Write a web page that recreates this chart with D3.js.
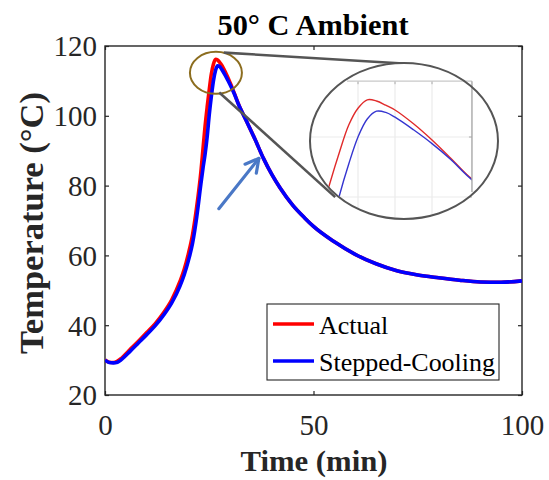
<!DOCTYPE html>
<html><head><meta charset="utf-8">
<script src="https://cdn.jsdelivr.net/npm/d3@7"></script>
<style>
body{margin:0;background:#fff}
svg{display:block}
text{font-family:"Liberation Serif","Times New Roman",serif}
</style>
</head><body>
<svg id="c" width="549" height="480"></svg>
<script>
// ---- data ----
const time    = [0,1,2,3,4,6,8,10,12,14,16,18,19,20,21,22,23,23.5,24,24.5,25,25.5,26,26.5,27,27.5,28,29,30,31,32,34,36,38,40,42,45,48,50,55,60,65,70,75,80,85,90,95,100];
const actual  = [30.0,29.4,29.3,29.7,30.6,33.0,35.4,37.9,40.4,43.5,47.3,52.6,56.0,60.5,66.0,74.0,84.0,90.5,97.0,102.5,107.5,112.0,114.8,116.2,116.0,115.3,114.5,112.2,109.5,106.5,103.4,98.3,93.2,87.8,83.2,79.3,74.4,70.6,68.3,63.9,60.3,57.6,55.6,54.4,53.6,52.9,52.4,52.3,52.7];
const stepped = [30.0,29.3,29.2,29.4,30.2,32.5,34.9,37.3,39.8,42.8,46.4,51.3,54.5,58.5,63.5,71.0,80.5,85.0,89.0,94.0,100.3,105.5,110.0,113.0,114.3,114.1,113.3,111.2,108.9,106.3,103.3,98.3,93.2,87.8,83.2,79.3,74.4,70.6,68.3,63.9,60.3,57.6,55.6,54.4,53.6,52.9,52.4,52.3,52.7];
const seriesNames = ["Actual", "Stepped-Cooling"];
const seriesColors = ["#ff0000", "#0000ff"];
const xTicks = [0, 50, 100];
const yTicks = [20, 40, 60, 80, 100, 120];
const insetXTicks = [26, 28, 30];
const insetYTicks = [110, 100];
const titleText = "50° C Ambient";
const xLabel = "Time (min)";
const yLabel = "Temperature (°C)";

// ---- layout ----
const svg = d3.select("#c");
const L = 105, R = 522, T = 46, B = 395;
const x = d3.scaleLinear([0, 100], [L, R]);
const y = d3.scaleLinear([20, 120], [B, T]);
const axisColor = "#262626";

const defs = svg.append("defs");
defs.append("clipPath").attr("id", "plotClip")
  .append("rect").attr("x", L).attr("y", T).attr("width", R - L).attr("height", B - T);

// title
svg.append("text").attr("x", 313).attr("y", 35).attr("text-anchor", "middle")
  .attr("font-size", 29).attr("font-weight", "bold").attr("fill", "#000")
  .attr("textLength", 191).attr("lengthAdjust", "spacingAndGlyphs").text(titleText);

// axes
const fmt = d3.format("d");
const gL = svg.append("g").attr("transform", `translate(${L},0)`)
  .call(d3.axisLeft(y).tickValues(yTicks).tickSizeInner(-4).tickSizeOuter(0).tickPadding(8).tickFormat(fmt));
const gB = svg.append("g").attr("transform", `translate(0,${B})`)
  .call(d3.axisBottom(x).tickValues(xTicks).tickSizeInner(-4).tickSizeOuter(0).tickPadding(40).tickFormat(fmt));
const gR = svg.append("g").attr("transform", `translate(${R},0)`)
  .call(d3.axisRight(y).tickValues(yTicks).tickSizeInner(-4).tickSizeOuter(0).tickFormat(""));
const gT = svg.append("g").attr("transform", `translate(0,${T})`)
  .call(d3.axisTop(x).tickValues(xTicks).tickSizeInner(-4).tickSizeOuter(0).tickFormat(""));
[gL, gB, gR, gT].forEach(g => {
  g.select(".domain").remove();
  g.selectAll("line").attr("stroke", axisColor).attr("stroke-width", 1.2);
  g.selectAll("text").attr("fill", axisColor).attr("font-size", 29)
    .attr("font-family", "'Liberation Serif','Times New Roman',serif");
});
gB.selectAll("text").attr("dy", 0);
gL.selectAll("text").attr("dy", "0.34em");

svg.append("rect").attr("x", L).attr("y", T).attr("width", R - L).attr("height", B - T)
  .attr("fill", "none").attr("stroke", axisColor).attr("stroke-width", 1.4);

// axis labels
svg.append("text").attr("x", 314).attr("y", 471).attr("text-anchor", "middle")
  .attr("font-size", 30).attr("font-weight", "bold").attr("fill", axisColor)
  .attr("textLength", 147).attr("lengthAdjust", "spacingAndGlyphs").text(xLabel);
svg.append("text").attr("transform", "translate(43,223) rotate(-90)").attr("text-anchor", "middle")
  .attr("font-size", 33).attr("font-weight", "bold").attr("fill", axisColor)
  .attr("textLength", 262).attr("lengthAdjust", "spacingAndGlyphs").text(yLabel);

// main lines
const series = [actual, stepped];
const lineMain = d3.line().x((d, i) => x(time[i])).y(d => y(d)).curve(d3.curveMonotoneX);
const gLines = svg.append("g").attr("clip-path", "url(#plotClip)");
series.forEach((s, k) => {
  gLines.append("path").datum(s).attr("d", lineMain).attr("fill", "none")
    .attr("stroke", seriesColors[k]).attr("stroke-width", 3.6).attr("stroke-linejoin", "round");
});

// ---- annotations (positioned in data coordinates) ----
const gray = "#555";
svg.append("ellipse").attr("cx", x(26.6)).attr("cy", y(112.3)).attr("rx", 26).attr("ry", 21)
  .attr("fill", "none").attr("stroke", "#8c6d1f").attr("stroke-width", 2);
[[28.5, 118.1, 71.5, 115.0], [27.4, 106.7, 55.2, 76.7]].forEach(c => {
  svg.append("line").attr("x1", x(c[0])).attr("y1", y(c[1])).attr("x2", x(c[2])).attr("y2", y(c[3]))
    .attr("stroke", gray).attr("stroke-width", 2.6);
});
const cx = x(71.7), cy = y(92.8), rx = 94, ry = 78;
defs.append("clipPath").attr("id", "ellClip")
  .append("ellipse").attr("cx", cx).attr("cy", cy).attr("rx", rx - 1).attr("ry", ry - 1);
svg.append("ellipse").attr("cx", cx).attr("cy", cy).attr("rx", rx).attr("ry", ry)
  .attr("fill", "#fff").attr("stroke", "none");

// inset axes
const ix = d3.scaleLinear([26, 28], [358, 395]);
const iy = d3.scaleLinear([100, 110], [197, 137]);
const iTop = iy(119.3), iRight = ix(32.16);
defs.append("clipPath").attr("id", "insetRect")
  .append("rect").attr("x", 0).attr("y", iTop).attr("width", iRight).attr("height", 480);
const gIn = svg.append("g").attr("clip-path", "url(#ellClip)")
  .append("g").attr("clip-path", "url(#insetRect)");
insetXTicks.forEach(t => {
  gIn.append("line").attr("x1", ix(t)).attr("x2", ix(t)).attr("y1", iTop).attr("y2", 260)
    .attr("stroke", "#ebebeb").attr("stroke-width", 1.2);
  svg.append("line").attr("x1", ix(t)).attr("x2", ix(t)).attr("y1", iTop).attr("y2", iTop + 3)
    .attr("stroke", "#aaa").attr("stroke-width", 1);
});
insetYTicks.forEach(v => {
  gIn.append("line").attr("x1", 300).attr("x2", iRight).attr("y1", iy(v)).attr("y2", iy(v))
    .attr("stroke", "#ebebeb").attr("stroke-width", 1.2);
  svg.append("line").attr("x1", iRight - 3).attr("x2", iRight).attr("y1", iy(v)).attr("y2", iy(v))
    .attr("stroke", "#aaa").attr("stroke-width", 1);
});
svg.append("line").attr("x1", 347).attr("x2", iRight).attr("y1", iTop).attr("y2", iTop)
  .attr("stroke", "#c8c8c8").attr("stroke-width", 1.2);
svg.append("line").attr("x1", iRight).attr("x2", iRight).attr("y1", iTop).attr("y2", 192)
  .attr("stroke", "#a8a8a8").attr("stroke-width", 1.4);
const lineInset = d3.line().x((d, i) => ix(time[i])).y(d => iy(d)).curve(d3.curveCatmullRom.alpha(0.5))
  .defined((d, i) => time[i] >= 22 && time[i] <= 34);
const insetColors = ["#e02a2a", "#3535d0"];
series.forEach((s, k) => {
  gIn.append("path").datum(s).attr("d", lineInset).attr("fill", "none")
    .attr("stroke", insetColors[k]).attr("stroke-width", 1.4);
});
svg.append("ellipse").attr("cx", cx).attr("cy", cy).attr("rx", rx).attr("ry", ry)
  .attr("fill", "none").attr("stroke", gray).attr("stroke-width", 2);

// arrow
const ax0 = x(27.3), ay0 = y(73.4), ax1 = x(36.9), ay1 = y(87.8);
const arrowColor = "#4a78c6";
svg.append("line").attr("x1", ax0).attr("y1", ay0).attr("x2", ax1).attr("y2", ay1)
  .attr("stroke", arrowColor).attr("stroke-width", 3.2).attr("stroke-linecap", "round");
const ang = Math.atan2(ay1 - ay0, ax1 - ax0), hl = 15, ha = 0.5;
svg.append("path")
  .attr("d", `M${ax1 - hl * Math.cos(ang - ha)},${ay1 - hl * Math.sin(ang - ha)}L${ax1},${ay1}L${ax1 - hl * Math.cos(ang + ha)},${ay1 - hl * Math.sin(ang + ha)}`)
  .attr("fill", "none").attr("stroke", arrowColor).attr("stroke-width", 3.2)
  .attr("stroke-linecap", "round").attr("stroke-linejoin", "round");

// legend
const lg = svg.append("g");
lg.append("rect").attr("x", 267).attr("y", 304).attr("width", 232).attr("height", 76)
  .attr("fill", "#fff").attr("stroke", axisColor).attr("stroke-width", 1.1);
const legY = [324, 361], legBase = [334, 371], legLen = [null, 176];
seriesNames.forEach((n, k) => {
  lg.append("line").attr("x1", 273).attr("x2", 314).attr("y1", legY[k]).attr("y2", legY[k])
    .attr("stroke", seriesColors[k]).attr("stroke-width", 3.6);
  const t = lg.append("text").attr("x", 319).attr("y", legBase[k]).attr("font-size", 26)
    .attr("fill", "#000").text(n);
  if (legLen[k]) t.attr("textLength", legLen[k]).attr("lengthAdjust", "spacingAndGlyphs");
});
</script>
</body></html>
